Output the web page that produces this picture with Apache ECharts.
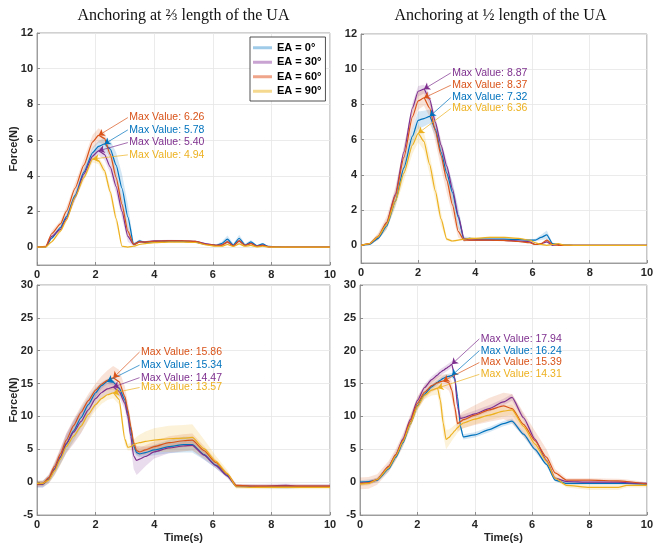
<!DOCTYPE html>
<html>
<head>
<meta charset="utf-8">
<script src="https://cdn.jsdelivr.net/npm/echarts@6/dist/echarts.min.js"></script>
<style>
  html, body { margin: 0; padding: 0; background: #fff; }
  #main { width: 656px; height: 546px; }
</style>
</head>
<body>
<div id="main"></div>
<script>
// series names / colours (MATLAB default order used in the figure)
const eaNames = ['EA = 0°', 'EA = 30°', 'EA = 60°', 'EA = 90°'];
const lineColors = ['#0072BD', '#7E2F8E', '#D95319', '#EDB120'];
const legendColors = ['#9fcbe8', '#c9a3d2', '#efa58a', '#f5d98f'];
const panelTitles = ['Anchoring at ⅔ length of the UA', 'Anchoring at ½ length of the UA'];

// ---- panel A : 2/3 length, top-left ----
const timeA = [0, 0.3, 0.5, 0.8, 1.0, 1.3, 1.6, 1.9, 2.1, 2.3, 2.5, 2.7, 2.9, 3.1, 3.3, 3.5, 3.7, 4.0, 4.5, 5.0, 5.4, 5.8, 6.1, 6.3, 6.5, 6.7, 6.9, 7.1, 7.3, 7.5, 7.7, 7.9, 8.2, 8.6, 10];
const forceA0 = [0, 0.02, 0.5, 1.1, 1.7, 2.9, 4.2, 5.3, 5.65, 5.78, 5.5, 4.6, 3.3, 1.7, 0.15, 0.35, 0.25, 0.3, 0.33, 0.32, 0.28, 0.15, 0.1, 0.2, 0.45, 0.12, 0.5, 0.12, 0.3, 0.08, 0.18, 0.04, 0.02, 0, 0];
const forceA30 = [0, 0.02, 0.6, 1.0, 1.6, 2.8, 4.1, 5.1, 5.40, 5.2, 4.5, 3.4, 2.0, 0.6, 0.15, 0.3, 0.3, 0.35, 0.37, 0.36, 0.33, 0.18, 0.1, 0.12, 0.3, 0.08, 0.35, 0.1, 0.22, 0.06, 0.12, 0.03, 0.01, 0, 0];
const forceA60 = [0, 0.05, 0.75, 1.3, 2.0, 3.3, 4.6, 5.9, 6.26, 6.1, 5.2, 3.9, 2.4, 0.9, 0.15, 0.3, 0.28, 0.33, 0.35, 0.35, 0.32, 0.15, 0.1, 0.1, 0.3, 0.07, 0.35, 0.1, 0.2, 0.05, 0.1, 0.02, 0.01, 0, 0];
const forceA90 = [0, 0, 0.3, 0.9, 1.5, 2.8, 3.9, 4.94, 4.85, 4.3, 3.1, 1.6, 0.05, 0.0, 0.05, 0.15, 0.2, 0.25, 0.28, 0.28, 0.26, 0.12, 0.05, 0.05, 0.15, 0.04, 0.18, 0.05, 0.1, 0.02, 0.05, 0.01, 0, 0, 0];
const sdA0 = [0, 0.02, 0.08, 0.12, 0.15, 0.2, 0.25, 0.3, 0.3, 0.35, 0.5, 0.7, 0.8, 0.7, 0.1, 0.08, 0.05, 0.04, 0.04, 0.04, 0.04, 0.05, 0.05, 0.1, 0.2, 0.08, 0.2, 0.08, 0.1, 0.05, 0.05, 0.03, 0.02, 0.01, 0];
const sdA30 = [0, 0.02, 0.1, 0.12, 0.15, 0.2, 0.25, 0.25, 0.25, 0.3, 0.35, 0.4, 0.4, 0.3, 0.08, 0.05, 0.04, 0.04, 0.04, 0.04, 0.04, 0.04, 0.04, 0.06, 0.1, 0.05, 0.1, 0.05, 0.06, 0.03, 0.04, 0.02, 0.01, 0, 0];
const sdA60 = [0, 0.03, 0.15, 0.2, 0.25, 0.3, 0.35, 0.4, 0.4, 0.35, 0.35, 0.35, 0.35, 0.3, 0.08, 0.05, 0.04, 0.04, 0.04, 0.04, 0.04, 0.04, 0.04, 0.05, 0.08, 0.04, 0.08, 0.04, 0.05, 0.03, 0.03, 0.02, 0.01, 0, 0];
const sdA90 = [0, 0, 0.05, 0.1, 0.12, 0.15, 0.2, 0.2, 0.2, 0.25, 0.3, 0.3, 0.05, 0.02, 0.02, 0.03, 0.03, 0.03, 0.03, 0.03, 0.03, 0.03, 0.03, 0.03, 0.05, 0.03, 0.05, 0.03, 0.03, 0.02, 0.02, 0.01, 0, 0, 0];

// ---- panel B : 1/2 length, top-right ----
const timeB = [0, 0.3, 0.6, 0.9, 1.2, 1.5, 1.8, 2.0, 2.2, 2.4, 2.6, 2.8, 3.0, 3.2, 3.4, 3.6, 3.8, 4.0, 4.5, 5.0, 5.5, 5.9, 6.1, 6.3, 6.5, 6.7, 6.9, 7.1, 7.5, 8.0, 10];
const forceB0 = [0, 0.05, 0.4, 1.1, 2.5, 4.4, 6.2, 7.1, 7.2, 7.32, 6.6, 5.3, 4.1, 3.0, 1.6, 0.35, 0.4, 0.35, 0.35, 0.35, 0.33, 0.3, 0.3, 0.45, 0.6, 0.1, 0.05, 0.02, 0, 0, 0];
const forceB30 = [0, 0.1, 0.5, 1.3, 2.9, 5.3, 7.8, 8.75, 8.87, 8.3, 7.0, 5.7, 4.5, 3.2, 1.7, 0.4, 0.3, 0.3, 0.3, 0.28, 0.25, 0.2, 0.05, 0.1, 0.2, 0.0, 0.05, 0.0, 0, 0, 0];
const forceB60 = [0, 0.1, 0.5, 1.3, 2.8, 5.0, 7.3, 8.2, 8.37, 7.8, 6.5, 5.1, 3.7, 2.3, 0.8, 0.3, 0.3, 0.3, 0.3, 0.28, 0.22, 0.15, 0.05, 0.1, 0.3, 0.05, 0.0, 0.0, 0, 0, 0];
const forceB90 = [0, 0.1, 0.5, 1.2, 2.5, 4.1, 5.7, 6.36, 5.9, 4.6, 3.1, 1.5, 0.35, 0.25, 0.3, 0.35, 0.4, 0.4, 0.45, 0.45, 0.4, 0.3, 0.15, 0.05, 0.0, 0.05, 0.1, 0.02, 0, 0, 0];
const sdB0 = [0, 0.03, 0.1, 0.2, 0.3, 0.4, 0.5, 0.5, 0.45, 0.4, 0.4, 0.45, 0.5, 0.6, 0.6, 0.15, 0.08, 0.05, 0.05, 0.05, 0.05, 0.05, 0.08, 0.15, 0.25, 0.05, 0.03, 0.02, 0, 0, 0];
const sdB30 = [0, 0.03, 0.1, 0.15, 0.25, 0.3, 0.3, 0.3, 0.25, 0.3, 0.3, 0.3, 0.3, 0.3, 0.25, 0.08, 0.05, 0.05, 0.04, 0.04, 0.04, 0.04, 0.03, 0.04, 0.05, 0.02, 0.02, 0.01, 0, 0, 0];
const sdB60 = [0, 0.05, 0.2, 0.35, 0.5, 0.6, 0.6, 0.5, 0.45, 0.5, 0.6, 0.7, 0.7, 0.6, 0.35, 0.08, 0.05, 0.05, 0.04, 0.04, 0.04, 0.04, 0.03, 0.04, 0.08, 0.02, 0.02, 0.01, 0, 0, 0];
const sdB90 = [0, 0.05, 0.15, 0.25, 0.35, 0.45, 0.5, 0.5, 0.5, 0.55, 0.5, 0.4, 0.1, 0.05, 0.05, 0.05, 0.05, 0.05, 0.05, 0.05, 0.05, 0.05, 0.04, 0.03, 0.02, 0.02, 0.03, 0.01, 0, 0, 0];

// ---- panel C : 2/3 length, bottom-left ----
const timeC = [0, 0.2, 0.4, 0.6, 0.8, 1.0, 1.25, 1.5, 1.75, 2.0, 2.2, 2.4, 2.6, 2.8, 3.0, 3.1, 3.2, 3.3, 3.4, 3.5, 3.7, 4.0, 4.5, 5.0, 5.3, 5.7, 6.1, 6.5, 6.8, 7.5, 8.5, 9.0, 10];
const forceC0 = [-0.3, -0.3, 0.5, 2.0, 3.8, 5.8, 7.8, 9.8, 11.8, 13.6, 14.7, 15.34, 15.2, 14.3, 12.5, 10.5, 8.0, 5.5, 4.5, 4.3, 4.5, 4.9, 5.4, 5.7, 5.7, 4.2, 2.6, 1.0, -0.6, -0.7, -0.7, -0.7, -0.7];
const forceC30 = [-0.3, -0.3, 0.4, 2.0, 3.9, 5.9, 7.6, 9.2, 11.0, 12.7, 13.6, 14.2, 14.47, 13.8, 12.0, 10.0, 7.0, 4.0, 3.3, 3.5, 3.9, 4.6, 5.2, 5.5, 5.6, 4.1, 2.5, 0.9, -0.6, -0.6, -0.5, -0.6, -0.6];
const forceC60 = [-0.3, -0.2, 0.7, 2.4, 4.3, 6.4, 8.6, 10.6, 12.4, 14.0, 14.9, 15.5, 15.86, 15.3, 13.0, 11.0, 8.5, 6.0, 4.8, 4.6, 4.9, 5.4, 6.0, 6.3, 6.4, 4.8, 3.0, 1.2, -0.5, -0.6, -0.6, -0.6, -0.6];
const forceC90 = [-0.2, -0.2, 0.3, 1.7, 3.5, 5.4, 7.0, 8.5, 10.3, 11.8, 12.7, 13.3, 13.57, 12.6, 6.5, 5.3, 5.4, 5.7, 5.9, 6.0, 6.2, 6.4, 6.6, 6.7, 6.8, 5.1, 3.2, 1.3, -0.7, -0.8, -0.8, -0.8, -0.8];
const sdC0 = [0.5, 0.5, 0.6, 0.8, 1.0, 1.3, 1.5, 1.5, 1.2, 0.8, 0.5, 0.4, 0.4, 0.5, 0.8, 1.0, 1.0, 0.8, 0.5, 0.5, 0.6, 0.8, 1.0, 1.2, 1.2, 0.8, 0.5, 0.3, 0.2, 0.2, 0.3, 0.2, 0.2];
const sdC30 = [0.5, 0.5, 0.6, 0.9, 1.2, 1.5, 1.8, 1.8, 1.5, 1.2, 1.0, 0.9, 0.8, 0.8, 1.0, 1.2, 1.5, 2.0, 2.2, 2.0, 1.5, 1.0, 0.8, 0.8, 0.8, 0.6, 0.4, 0.3, 0.3, 0.3, 0.3, 0.3, 0.3];
const sdC60 = [0.4, 0.4, 0.5, 0.7, 0.9, 1.0, 1.0, 1.0, 1.0, 1.0, 1.2, 1.5, 1.8, 1.8, 1.5, 1.2, 1.0, 0.8, 0.6, 0.6, 0.7, 0.8, 1.0, 1.0, 1.0, 0.7, 0.5, 0.3, 0.2, 0.2, 0.2, 0.2, 0.2];
const sdC90 = [0.4, 0.4, 0.5, 0.7, 0.9, 1.0, 1.0, 1.0, 1.0, 0.9, 0.8, 0.8, 0.8, 0.8, 0.8, 0.5, 0.6, 0.8, 1.0, 1.2, 1.5, 1.8, 2.0, 2.0, 2.0, 1.4, 0.8, 0.5, 0.3, 0.3, 0.3, 0.3, 0.3];

// ---- panel D : 1/2 length, bottom-right ----
const timeD = [0, 0.3, 0.6, 1.0, 1.25, 1.5, 1.75, 2.0, 2.25, 2.5, 2.7, 2.8, 2.9, 3.0, 3.1, 3.2, 3.3, 3.4, 3.5, 3.6, 4.0, 4.5, 5.0, 5.3, 5.7, 6.1, 6.5, 6.8, 7.2, 8.0, 9.0, 9.3, 10];
const forceD0 = [0.0, 0.1, 0.3, 2.0, 3.8, 6.0, 8.8, 11.6, 13.4, 14.5, 15.2, 15.5, 15.8, 16.0, 16.1, 16.24, 15.8, 13.0, 8.5, 6.9, 7.2, 8.0, 8.9, 9.3, 7.3, 5.0, 2.7, 0.3, -0.2, -0.2, -0.2, -0.2, -0.3];
const forceD30 = [-0.2, -0.1, 0.4, 2.4, 4.2, 6.6, 9.5, 12.4, 14.4, 15.6, 16.3, 16.7, 17.0, 17.3, 17.6, 17.94, 16.0, 11.5, 9.7, 9.8, 10.4, 11.2, 12.2, 12.9, 9.8, 6.5, 3.3, 0.6, 0.1, 0.0, 0.0, -0.1, -0.2];
const forceD60 = [-0.2, -0.1, 0.4, 2.4, 4.2, 6.4, 9.2, 12.0, 13.7, 14.7, 15.1, 15.3, 15.39, 15.3, 15.1, 14.0, 11.5, 8.9, 9.2, 9.5, 10.2, 11.0, 11.6, 11.2, 8.8, 6.3, 3.8, 1.4, 0.3, 0.3, 0.2, 0.1, -0.3];
const forceD90 = [-0.3, -0.2, 0.4, 2.2, 4.0, 6.2, 8.8, 11.5, 13.2, 14.0, 14.31, 12.5, 9.0, 6.5, 6.8, 7.3, 7.8, 8.3, 8.7, 9.0, 9.6, 10.2, 10.8, 11.0, 8.5, 5.8, 3.2, 0.6, -0.5, -0.8, -0.8, -0.5, -0.5];
const sdD0 = [0.3, 0.3, 0.3, 0.4, 0.4, 0.5, 0.5, 0.5, 0.4, 0.4, 0.4, 0.4, 0.4, 0.4, 0.4, 0.4, 0.5, 0.6, 0.5, 0.4, 0.4, 0.4, 0.4, 0.4, 0.4, 0.4, 0.3, 0.2, 0.2, 0.2, 0.2, 0.2, 0.2];
const sdD30 = [0.3, 0.3, 0.3, 0.4, 0.5, 0.5, 0.5, 0.5, 0.5, 0.5, 0.5, 0.5, 0.5, 0.5, 0.5, 0.5, 0.6, 0.6, 0.5, 0.5, 0.5, 0.5, 0.5, 0.5, 0.5, 0.4, 0.3, 0.2, 0.2, 0.2, 0.2, 0.2, 0.2];
const sdD60 = [0.9, 0.9, 0.8, 0.8, 0.9, 1.0, 1.0, 1.0, 1.0, 1.0, 1.0, 1.0, 1.0, 1.1, 1.2, 1.3, 1.3, 1.2, 1.2, 1.3, 1.5, 1.8, 2.0, 2.2, 1.8, 1.5, 1.2, 0.6, 0.3, 0.3, 0.3, 0.3, 0.3];
const sdD90 = [0.3, 0.3, 0.3, 0.4, 0.5, 0.5, 0.6, 0.6, 0.6, 0.8, 1.0, 1.5, 1.8, 1.5, 1.2, 1.0, 0.9, 0.8, 0.8, 0.8, 0.8, 0.8, 0.8, 0.8, 0.7, 0.5, 0.4, 0.3, 0.3, 0.4, 0.4, 0.3, 0.3];

// panel layout + where the "Max Value" text sits (data coords, per EA)
const panels = [
  { time: timeA, means: [forceA0, forceA30, forceA60, forceA90], sds: [sdA0, sdA30, sdA60, sdA90],
    textAt: [[3.1, 6.57], [3.1, 5.86], [3.1, 7.26], [3.1, 5.17]],
    grid: { left: 37, top: 33, width: 293, height: 232 }, yMin: -1, yMax: 12, split: 6 },
  { time: timeB, means: [forceB0, forceB30, forceB60, forceB90], sds: [sdB0, sdB30, sdB60, sdB90],
    textAt: [[3.14, 8.39], [3.14, 9.79], [3.14, 9.09], [3.14, 7.77]],
    grid: { left: 361, top: 34, width: 290, height: 229 }, yMin: -1, yMax: 12, split: 6 },
  { time: timeC, means: [forceC0, forceC30, forceC60, forceC90], sds: [sdC0, sdC30, sdC60, sdC90],
    textAt: [[3.5, 17.8], [3.5, 15.9], [3.5, 19.8], [3.5, 14.4]],
    grid: { left: 37, top: 285, width: 293, height: 230 }, yMin: -5, yMax: 30, interval: 5 },
  { time: timeD, means: [forceD0, forceD30, forceD60, forceD90], sds: [sdD0, sdD30, sdD60, sdD90],
    textAt: [[4.16, 20.0], [4.16, 21.8], [4.16, 18.2], [4.16, 16.4]],
    grid: { left: 360, top: 285, width: 290, height: 230 }, yMin: -5, yMax: 30, interval: 5 }
];

function hexToRgba(hex, a) {
  const n = parseInt(hex.slice(1), 16);
  return 'rgba(' + (n >> 16) + ',' + ((n >> 8) & 255) + ',' + (n & 255) + ',' + a + ')';
}

// shaded band (mean ± sd) drawn as one polygon through the axis scales
function bandSeries(p, time, mean, sd, color) {
  return {
    type: 'custom', xAxisIndex: p, yAxisIndex: p, silent: true, z: 1,
    data: time.map((t, i) => [t, mean[i] - sd[i], mean[i] + sd[i]]),
    encode: { x: 0, y: [1, 2] },
    renderItem: function (params, api) {
      if (params.dataIndexInside !== 0) return;
      const n = params.dataInsideLength;
      const upper = [], lower = [];
      for (let i = 0; i < n; i++) {
        upper.push(api.coord([api.value(0, i), api.value(2, i)]));
        lower.push(api.coord([api.value(0, i), api.value(1, i)]));
      }
      return {
        type: 'polygon',
        shape: { points: upper.concat(lower.reverse()) },
        style: { fill: hexToRgba(color, 0.17), stroke: null }
      };
    }
  };
}

function lineSeries(p, k, time, mean, textAt) {
  let peak = 0;
  mean.forEach((v, i) => { if (v > mean[peak]) peak = i; });
  const color = lineColors[k];
  return {
    name: eaNames[k], type: 'line', xAxisIndex: p, yAxisIndex: p, z: 3,
    data: time.map((t, i) => [t, mean[i]]),
    symbol: 'none', smooth: 0.2, smoothMonotone: 'x',
    lineStyle: { color: color, width: 1.2 },
    itemStyle: { color: color },
    markLine: {
      silent: true, symbol: ['none', 'arrow'], symbolSize: 6,
      lineStyle: { color: color, width: 0.7, type: 'solid' },
      label: { show: false },
      data: [[{ coord: textAt }, { coord: [time[peak], mean[peak]] }]]
    },
    markPoint: {
      silent: true, symbol: 'circle', symbolSize: 1,
      itemStyle: { color: 'rgba(0,0,0,0)' },
      label: {
        show: true, position: 'right', distance: 1,
        formatter: 'Max Value: ' + mean[peak].toFixed(2),
        color: color, fontSize: 10.5, fontFamily: 'Liberation Sans, Arial, sans-serif'
      },
      data: [{ coord: textAt }]
    }
  };
}

const axisFont = { color: '#262626', fontSize: 11, fontWeight: 'bold', fontFamily: 'Liberation Sans, Arial, sans-serif' };
const axisGray = '#8c8c8c';

const grids = [], xAxes = [], yAxes = [], series = [];
panels.forEach((pn, p) => {
  grids.push(Object.assign({ show: true, borderColor: axisGray, borderWidth: 0.8, backgroundColor: '#fff' }, pn.grid));
  xAxes.push({
    type: 'value', gridIndex: p, min: 0, max: 10, interval: 2,
    name: p >= 2 ? 'Time(s)' : '', nameLocation: 'middle', nameGap: 17, nameMoveOverlap: false,
    nameTextStyle: axisFont,
    axisLine: { show: true, onZero: false, lineStyle: { color: axisGray, width: 0.8 } },
    axisTick: { show: true, inside: true, length: 3, lineStyle: { color: axisGray } },
    axisLabel: Object.assign({ margin: 4 }, axisFont),
    splitLine: { show: true, lineStyle: { color: '#e6e6e6', width: 0.8 } }
  });
  const y = {
    type: 'value', gridIndex: p, min: pn.yMin, max: pn.yMax,
    name: p % 2 === 0 ? 'Force(N)' : '', nameLocation: 'middle', nameGap: 18, nameMoveOverlap: false,
    nameTextStyle: axisFont,
    axisLine: { show: true, onZero: false, lineStyle: { color: axisGray, width: 0.8 } },
    axisTick: { show: true, inside: true, length: 3, lineStyle: { color: axisGray } },
    axisLabel: Object.assign({ margin: 4, formatter: v => (v === -1 ? '' : v) }, axisFont),
    splitLine: { show: true, lineStyle: { color: '#e6e6e6', width: 0.8 } }
  };
  if (pn.interval) y.interval = pn.interval; else y.splitNumber = pn.split;
  yAxes.push(y);
  for (let k = 0; k < 4; k++) {
    series.push(bandSeries(p, pn.time, pn.means[k], pn.sds[k], lineColors[k]));
  }
  for (let k = 0; k < 4; k++) {
    series.push(lineSeries(p, k, pn.time, pn.means[k], pn.textAt[k]));
  }
});

const chart = echarts.init(document.getElementById('main'), null, { renderer: 'canvas' });
chart.setOption({
  backgroundColor: '#fff',
  animation: false,
  grid: grids,
  xAxis: xAxes,
  yAxis: yAxes,
  series: series,
  legend: {
    orient: 'vertical', left: 250, top: 37,
    backgroundColor: '#fff', borderColor: '#262626', borderWidth: 0.8,
    padding: [4, 4, 3, 3], itemGap: 1, itemWidth: 19, itemHeight: 3,
    textStyle: { color: '#000', fontSize: 11, fontWeight: 'bold', lineHeight: 13.5, fontFamily: 'Liberation Sans, Arial, sans-serif' },
    selectedMode: false,
    data: eaNames.map((n, k) => ({ name: n, icon: 'rect', itemStyle: { color: legendColors[k] } }))
  },
  graphic: panelTitles.map((t, i) => ({
    type: 'text', x: i === 0 ? 183.5 : 500.5, y: 16,
    style: { text: t, align: 'center', verticalAlign: 'middle', fontSize: 16,
      fontFamily: 'Liberation Serif, DejaVu Serif, serif', fill: '#111' }
  }))
});
</script>
</body>
</html>
